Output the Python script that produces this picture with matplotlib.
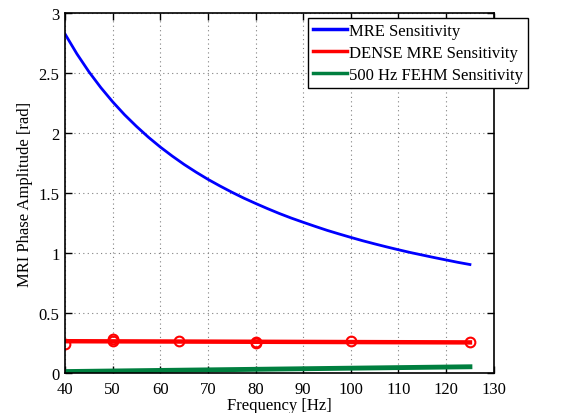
import matplotlib
matplotlib.use("Agg")
import matplotlib.pyplot as plt
from matplotlib.lines import Line2D

freq_mre = [40, 42.5, 45, 47.5, 50, 52.5, 55, 57.5, 60, 62.5, 65, 67.5, 70, 72.5, 75,
            77.5, 80, 82.5, 85, 87.5, 90, 92.5, 95, 97.5, 100, 102.5, 105, 107.5, 110,
            112.5, 115, 117.5, 120, 122.5, 125]
mre = [2.825, 2.659, 2.511, 2.379, 2.26, 2.152, 2.055, 1.965, 1.883, 1.808, 1.738,
       1.674, 1.614, 1.559, 1.507, 1.458, 1.413, 1.370, 1.329, 1.291, 1.256, 1.222,
       1.189, 1.159, 1.13, 1.102, 1.076, 1.051, 1.027, 1.004, 0.983, 0.962, 0.942,
       0.922, 0.904]

dense_freq = [40, 50, 50, 64, 80, 80, 100, 125]
dense_pts = [0.245, 0.285, 0.27, 0.265, 0.26, 0.25, 0.27, 0.26]
dense_fit_freq = [40, 125]
dense_fit = [0.265, 0.255]

fehm_freq = [40, 125]
fehm = [0.012, 0.052]

xticks = [40, 50, 60, 70, 80, 90, 100, 110, 120, 130]
yticks = [0, 0.5, 1, 1.5, 2, 2.5, 3]
ytick_labels = ["0", "0.5", "1", "1.5", "2", "2.5", "3"]

plt.rcParams['font.family'] = ['Liberation Serif', 'DejaVu Serif']

fig = plt.figure(figsize=(5.63, 4.14), dpi=100)
ax = fig.add_axes([0.1155, 0.0966, 0.7615, 0.8696])

ax.plot(freq_mre, mre, color='#0000ff', lw=2.0)
ax.plot(dense_fit_freq, dense_fit, color='#ff0000', lw=3.2)
ax.plot(dense_freq, dense_pts, 'o', mfc='none', mec='#ff0000', ms=7, mew=1.5)
ax.plot(fehm_freq, fehm, color='#007f3f', lw=3.5)

ax.set_xlim(40, 130)
ax.set_ylim(0, 3)
ax.set_xticks(xticks)
ax.set_yticks(yticks)
ax.set_yticklabels(ytick_labels)
ax.tick_params(direction='in', top=True, right=True, labelsize=12, length=5, width=1)
ax.tick_params(axis='x', pad=6)
ax.tick_params(axis='y', pad=4)
ax.grid(True, linestyle=(0, (1, 3)), color='#808080', lw=0.8)
for s in ax.spines.values():
    s.set_linewidth(1.2)

ax.set_xlabel('Frequency [Hz]', fontsize=12, labelpad=0)
ax.set_ylabel('MRI Phase Amplitude [rad]', fontsize=12, labelpad=4)

handles = [Line2D([], [], color='#0000ff', lw=2.5),
           Line2D([], [], color='#ff0000', lw=2.5),
           Line2D([], [], color='#007f3f', lw=2.5)]
labels = ['MRE Sensitivity', 'DENSE MRE Sensitivity', '500 Hz FEHM Sensitivity']
leg = fig.legend(handles, labels, loc='upper right', bbox_to_anchor=(528/563, 1 - 19/414),
                 fontsize=12, frameon=True, fancybox=False, edgecolor='black',
                 framealpha=1, handlelength=2.0, handletextpad=0.15, borderpad=0.3,
                 labelspacing=0.35, borderaxespad=0)
leg.get_frame().set_linewidth(1.0)

fig.savefig('out.png', dpi=100)
